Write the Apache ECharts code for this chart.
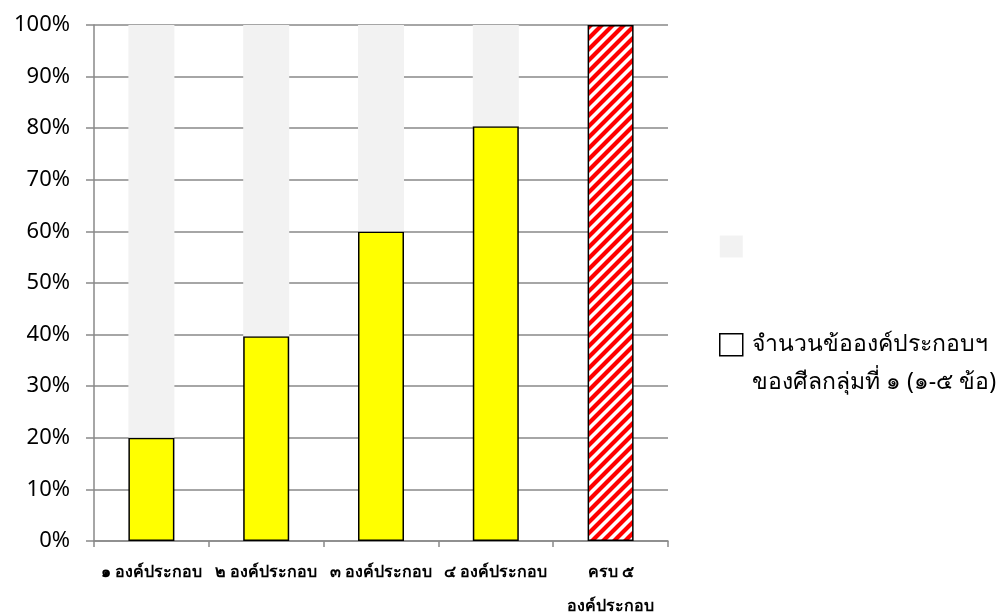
<!DOCTYPE html>
<html><head><meta charset="utf-8">
<script src="https://cdn.jsdelivr.net/npm/echarts@6/dist/echarts.min.js"></script>
<style>html,body{margin:0;padding:0;background:#fff}#c{width:1008px;height:614px}</style>
</head><body><div id="c"></div>
<script>
var categories = ['๑ องค์ประกอบ', '๒ องค์ประกอบ', '๓ องค์ประกอบ', '๔ องค์ประกอบ', 'ครบ ๕\nองค์ประกอบ'];
var yellowValues = [20, 39.7, 60, 80.4, null];
var grayValues = [80, 60.3, 40, 19.6, null];
var hatchValues = [null, null, null, null, 100];
var yTicks = [0, 10, 20, 30, 40, 50, 60, 70, 80, 90, 100];
var legendLine1 = 'จำนวนข้อองค์ประกอบฯ';
var legendLine2 = 'ของศีลกลุ่มที่ ๑ (๑-๕ ข้อ)';

var P = 11;
var pc = document.createElement('canvas');
pc.width = P; pc.height = P;
var ctx = pc.getContext('2d');
ctx.fillStyle = '#fff'; ctx.fillRect(0,0,P,P);
ctx.strokeStyle = '#ff0000'; ctx.lineWidth = 4.2;
ctx.beginPath();
ctx.moveTo(-3, P+3); ctx.lineTo(P+3, -3);
ctx.moveTo(-P-3, P+3); ctx.lineTo(3, -3);
ctx.moveTo(P-3, P+3); ctx.lineTo(2*P+3, -3);
ctx.stroke();

var font = '"Noto Sans", "DejaVu Sans", sans-serif';
var chart = echarts.init(document.getElementById('c'));
chart.setOption({
  animation: false,
  backgroundColor: '#fff',
  grid: {left: 94, right: 340, top: 25, bottom: 73, containLabel: false, outerBoundsMode: 'none'},
  xAxis: {
    type: 'category', data: categories,
    axisLine: {lineStyle: {color: '#898989', width: 1.5}},
    axisTick: {show: true, length: 6, lineStyle: {color: '#898989', width: 1.5}},
    axisLabel: {color: '#000', fontSize: 16, fontWeight: 'bold', fontFamily: font, margin: 14, lineHeight: 34, interval: 0}
  },
  yAxis: {
    type: 'value', min: 0, max: 100, interval: 10,
    axisLine: {show: true, lineStyle: {color: '#898989', width: 1.5}},
    axisTick: {show: true, length: 8, lineStyle: {color: '#898989', width: 1.5}},
    splitLine: {lineStyle: {color: '#898989', width: 1.5}},
    axisLabel: {color: '#000', fontSize: 22, fontFamily: font, margin: 24,
      formatter: function(v){ return yTicks.indexOf(v) >= 0 ? v + '%' : ''; }}
  },
  legend: {
    orient: 'vertical', left: 719, top: 235, padding: 0, itemWidth: 23, itemHeight: 22, itemGap: 75,
    selectedMode: false,
    textStyle: {color: '#000', fontSize: 23, fontFamily: font, padding: [0,0,0,4]},
    data: [
      {name: ' ', icon: 'rect', itemStyle: {color: '#f2f2f2', borderWidth: 0}},
      {name: legendLine1, icon: 'rect', itemStyle: {color: '#fff', borderColor: '#000', borderWidth: 1.5}}
    ]
  },
  graphic: [{type: 'text', left: 752, top: 371, style: {text: legendLine2, fontSize: 23, fontFamily: font, fill: '#000'}}],
  series: [
    {name: 'yellow', type: 'bar', stack: 's', data: yellowValues, barWidth: 46,
      itemStyle: {color: '#ffff00', borderColor: '#000', borderWidth: 1.5}},
    {name: ' ', type: 'bar', stack: 's', data: grayValues,
      itemStyle: {color: '#f2f2f2', borderWidth: 0}},
    {name: legendLine1, type: 'bar', stack: 's', data: hatchValues,
      itemStyle: {color: {image: pc, repeat: 'repeat'}, borderColor: '#000', borderWidth: 1.5}}
  ]
});
</script></body></html>
